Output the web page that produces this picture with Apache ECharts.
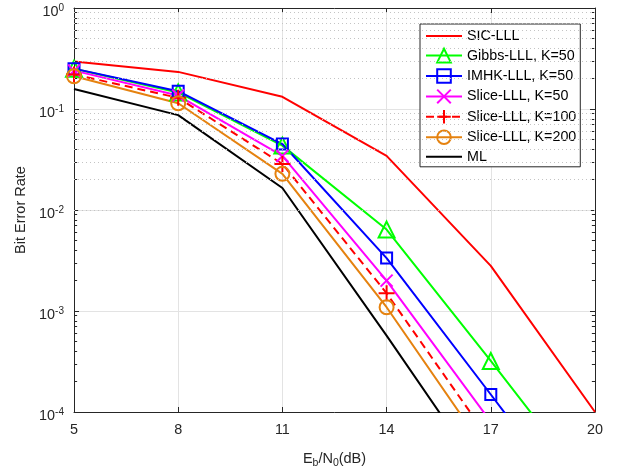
<!DOCTYPE html>
<html><head><meta charset="utf-8">
<script src="https://cdn.jsdelivr.net/npm/echarts@6/dist/echarts.min.js"></script>
<style>html,body{margin:0;padding:0;background:#fff}#c{width:623px;height:474px}</style>
</head><body><div id="c"></div>
<script>
// ---- data ----
const ebn0 = [5, 8, 11, 14, 17, 20];
const sicLLL     = [0.296, 0.233, 0.132, 0.0343, 0.0028, 1.0e-4];
const gibbsLLL50 = [0.250, 0.146, 0.0434, 0.0064, 3.2e-4, 1.5e-5];
const imhkLLL50  = [0.251, 0.150, 0.045, 0.00334, 1.49e-4, 6.5e-6];
const sliceLLL50 = [0.240, 0.136, 0.0343, 0.0020, 8.0e-5, 3.0e-6];
const sliceLLL100= [0.220, 0.129, 0.0286, 0.0015, 5.1e-5, 1.7e-6];
const sliceLLL200= [0.211, 0.114, 0.0228, 0.00109, 3.5e-5, 1.0e-6];
const mlCurve    = [0.158, 0.087, 0.0165, 5.7e-4, 1.8e-5, 5.0e-7];
const seriesNames = ['SIC-LLL','Gibbs-LLL, K=50','IMHK-LLL, K=50','Slice-LLL, K=50','Slice-LLL, K=100','Slice-LLL, K=200','ML'];
const xTicks = [5, 8, 11, 14, 17, 20];
const yDecades = [1e-4, 1e-3, 1e-2, 1e-1, 1];
const minorMult = [2,3,4,5,6,7,8,9];

const xMin = 5, xMax = 20, yMin = 1e-4, yMax = 1;
const minorVals = [];
yDecades.slice(0, -1).forEach(d => minorMult.forEach(m => minorVals.push(m * d)));

const pair = arr => ebn0.map((x, i) => [x, arr[i]]);
const TXT = '#262626';
const FONT = 'Liberation Sans, Arial, Helvetica, sans-serif';

const xPath = 'path://M0,0L10,10M10,0L0,10';
const plusPath = 'path://M5,0L5,10M0,5L10,5';
const CLEAR = 'rgba(255,255,255,0)';

function mk(name, data, color, symbol, size, dashed) {
  const isPath = symbol && symbol.startsWith('path');
  return {
    name, type: 'line', data: pair(data), clip: true,
    xAxisIndex: 0, yAxisIndex: 0,
    symbol: symbol || 'none', symbolSize: size || 0, showSymbol: !!symbol,
    lineStyle: { color, width: 2, type: dashed ? [8, 5] : 'solid' },
    itemStyle: symbol
      ? { color: isPath ? color : CLEAR, borderColor: color, borderWidth: 2 }
      : { color: CLEAR, borderColor: CLEAR, borderWidth: 0 },
    emphasis: { disabled: true }, animation: false
  };
}

const series = [
  mk(seriesNames[0], sicLLL, '#ff0000'),
  mk(seriesNames[1], gibbsLLL50, '#00ff00', 'triangle', 16),
  mk(seriesNames[2], imhkLLL50, '#0000ff', 'rect', 11),
  mk(seriesNames[3], sliceLLL50, '#ff00ff', xPath, 12),
  mk(seriesNames[4], sliceLLL100, '#ff0000', plusPath, 16, true),
  mk(seriesNames[5], sliceLLL200, '#e5820f', 'circle', 14),
  mk(seriesNames[6], mlCurve, '#000000')
];

// minor grid (dotted) and minor ticks drawn through the axes' own scales
series.unshift({
  name: '_minor', type: 'line', data: [], xAxisIndex: 0, yAxisIndex: 0, silent: true, animation: false,
  markLine: {
    silent: true, symbol: 'none', animation: false, label: { show: false },
    lineStyle: { color: '#c4c4c4', width: 1, type: [1, 3] },
    data: minorVals.map(v => ({ yAxis: v }))
  }
});
series.unshift({
  name: '_minorTicks', type: 'line', data: [], xAxisIndex: 0, yAxisIndex: 0, silent: true, animation: false,
  markLine: {
    silent: true, symbol: 'none', animation: false, label: { show: false },
    lineStyle: { color: TXT, width: 1, type: 'solid' },
    data: minorVals.flatMap(v => [
      [{ coord: [xMin, v] }, { coord: [xMin + 0.09, v] }],
      [{ coord: [xMax - 0.09, v] }, { coord: [xMax, v] }]
    ])
  }
});

const chart = echarts.init(document.getElementById('c'), null, { renderer: 'canvas' });
chart.setOption({
  animation: false,
  backgroundColor: '#fff',
  textStyle: { fontFamily: FONT },
  grid: { left: 74, right: 28, top: 8, bottom: 59 },
  legend: {
    data: seriesNames,
    orient: 'vertical', left: 420, top: 24,
    itemWidth: 36, itemHeight: 17, itemGap: 4.8,
    padding: [5, 4, 3, 5],
    backgroundColor: '#fff', borderColor: TXT, borderWidth: 1,
    textStyle: { fontSize: 14.3, color: '#000', fontFamily: FONT },
    selectedMode: false
  },
  xAxis: [{
    type: 'value', min: xMin, max: xMax, interval: 3, position: 'bottom',
    name: '{n|E}{sub|b}{n|/N}{sub|0}{n|(dB)}', nameLocation: 'middle', nameGap: 37,
    nameTextStyle: { rich: {
      n: { fontSize: 14.5, color: TXT, fontFamily: FONT },
      sub: { fontSize: 10.5, color: TXT, fontFamily: FONT, padding: [9, 0, 0, 0] }
    } },
    axisLine: { show: true, onZero: false, lineStyle: { color: TXT, width: 1 } },
    axisTick: { show: true, inside: true, length: 5, lineStyle: { color: TXT } },
    axisLabel: { fontSize: 14.4, color: TXT, margin: 11, fontFamily: FONT },
    splitLine: { show: true, lineStyle: { color: '#e3e3e3', width: 1 } }
  }, {
    type: 'value', min: xMin, max: xMax, interval: 3, position: 'top',
    axisLine: { show: true, onZero: false, lineStyle: { color: TXT, width: 1 } },
    axisTick: { show: true, inside: true, length: 5, lineStyle: { color: TXT } },
    axisLabel: { show: false }, splitLine: { show: false }
  }],
  yAxis: [{
    type: 'log', logBase: 10, min: yMin, max: yMax, position: 'left',
    name: 'Bit Error Rate', nameLocation: 'middle', nameGap: 42,
    nameTextStyle: { fontSize: 14.5, color: TXT, fontFamily: FONT },
    axisLine: { show: true, onZero: false, lineStyle: { color: TXT, width: 1 } },
    axisTick: { show: true, inside: true, length: 5, lineStyle: { color: TXT } },
    axisLabel: {
      margin: 10, color: TXT, padding: [9, 0, 0, 0],
      formatter: v => '{b|10}{s|' + Math.round(Math.log10(v)) + '}',
      rich: {
        b: { fontSize: 14.4, color: TXT, fontFamily: FONT },
        s: { fontSize: 10, color: TXT, fontFamily: FONT, padding: [0, 0, 9, 0] }
      }
    },
    splitLine: { show: true, lineStyle: { color: '#e3e3e3', width: 1 } }
  }, {
    type: 'log', logBase: 10, min: yMin, max: yMax, position: 'right',
    axisLine: { show: true, onZero: false, lineStyle: { color: TXT, width: 1 } },
    axisTick: { show: true, inside: true, length: 5, lineStyle: { color: TXT } },
    axisLabel: { show: false }, splitLine: { show: false }
  }],
  series
});
</script></body></html>
